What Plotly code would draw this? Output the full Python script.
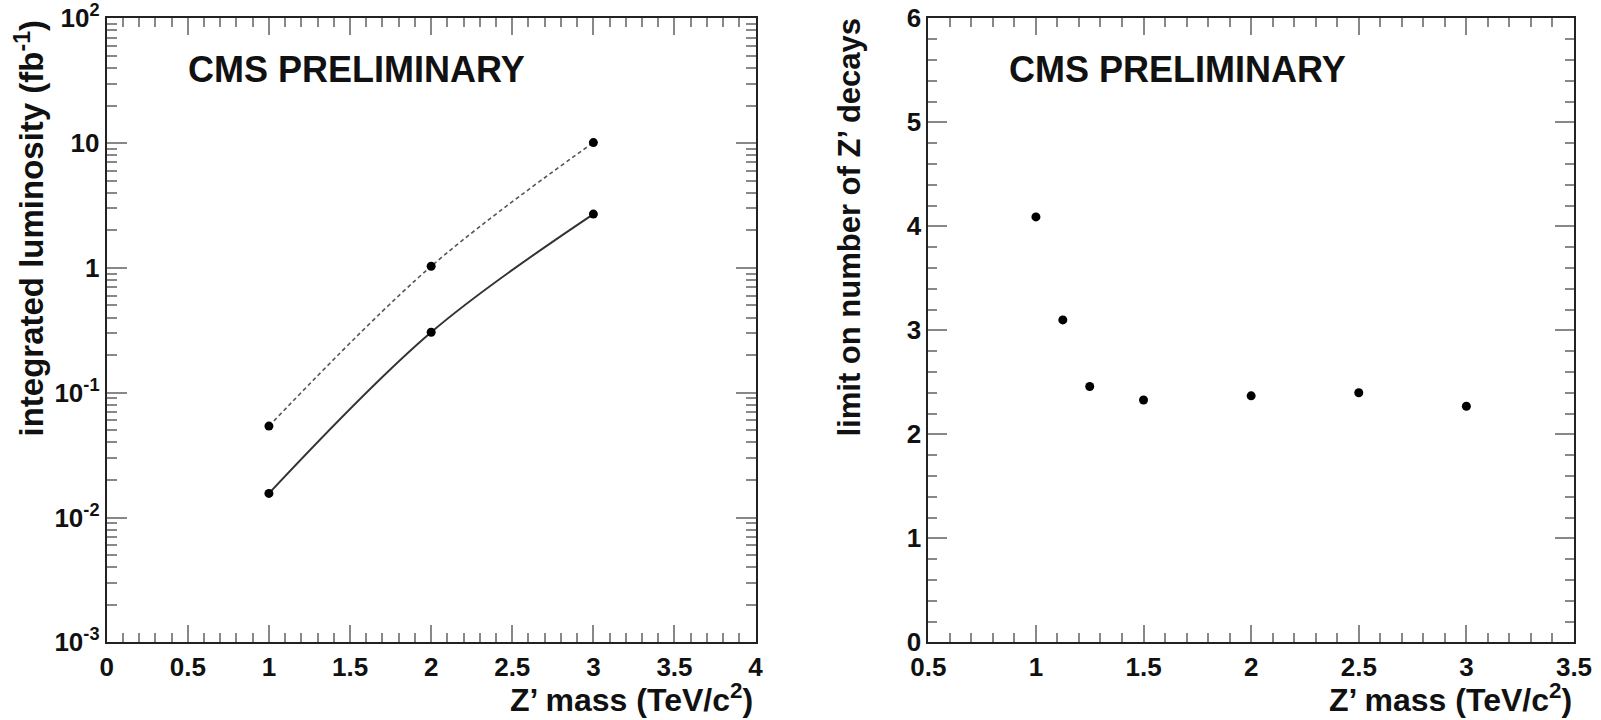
import plotly.graph_objects as go

# ---------------- data ----------------
mass_lumi = [1, 2, 3]
lumi_dashed = [0.054, 1.03, 10.1]
lumi_solid = [0.0156, 0.305, 2.70]

mass_limit = [1, 1.125, 1.25, 1.5, 2, 2.5, 3]
limit_decays = [4.09, 3.10, 2.46, 2.33, 2.37, 2.40, 2.27]

log_tickvals = [1e-3, 1e-2, 1e-1, 1, 10, 100]
log_ticktext = ["10<sup>-3</sup>", "10<sup>-2</sup>", "10<sup>-1</sup>", "1", "10", "10<sup>2</sup>"]

# ---------------- geometry (pixels) ----------------
W, H = 1601, 720
L1, R1 = 106.7, 755.6
L2, R2 = 928.3, 1574.0
TOP, BOT = 18.3, 642.3

def px(x):
    return x / W

def py(y):
    return 1 - y / H

FONT = "Liberation Sans"
tickfont = dict(family=FONT, size=26, color="#111", weight="bold")

fig = go.Figure()

fig.add_trace(go.Scatter(
    x=mass_lumi, y=lumi_dashed, mode="lines+markers",
    line=dict(color="#555", width=1.6, dash="4px,3px", shape="spline", smoothing=1),
    marker=dict(color="black", size=9),
    xaxis="x", yaxis="y", showlegend=False))
fig.add_trace(go.Scatter(
    x=mass_lumi, y=lumi_solid, mode="lines+markers",
    line=dict(color="#333", width=2, shape="spline", smoothing=1),
    marker=dict(color="black", size=9),
    xaxis="x", yaxis="y", showlegend=False))
fig.add_trace(go.Scatter(
    x=mass_limit, y=limit_decays, mode="markers",
    marker=dict(color="black", size=9),
    xaxis="x2", yaxis="y2", showlegend=False))

axis_common = dict(
    showline=True, linecolor="#222", linewidth=2, mirror="ticks",
    ticks="inside", tickcolor="#888", tickwidth=1.5,
    showgrid=False, zeroline=False, tickfont=tickfont, automargin=False,
)

fig.update_layout(
    width=W, height=H, autosize=False,
    margin=dict(l=0, r=0, t=0, b=0, pad=0),
    paper_bgcolor="white", plot_bgcolor="white",
    xaxis=dict(domain=[px(L1), px(R1)], range=[0, 4], tick0=0, dtick=0.5,
               ticklen=17, anchor="y",
               minor=dict(dtick=0.1, ticks="inside", ticklen=9, tickcolor="#888", tickwidth=1.5),
               **axis_common),
    yaxis=dict(domain=[py(BOT), py(TOP)], type="log", range=[-3, 2],
               tickvals=log_tickvals, ticktext=log_ticktext, ticklen=20, anchor="x",
               minor=dict(dtick="D1", ticks="inside", ticklen=10, tickcolor="#888", tickwidth=1.5),
               **axis_common),
    xaxis2=dict(domain=[px(L2), px(R2)], range=[0.5, 3.5], tick0=0.5, dtick=0.5,
                ticklen=17, anchor="y2",
                minor=dict(dtick=0.1, ticks="inside", ticklen=9, tickcolor="#888", tickwidth=1.5),
                **axis_common),
    yaxis2=dict(domain=[py(BOT), py(TOP)], range=[0, 6], tick0=0, dtick=1,
                ticklen=19, anchor="x2",
                minor=dict(dtick=0.2, ticks="inside", ticklen=9, tickcolor="#888", tickwidth=1.5),
                **axis_common),
)

ann_font_big = dict(family=FONT, size=36, color="#111", weight="bold")
title_font = dict(family=FONT, size=32, color="#111", weight="bold")

annotations = [
    dict(text="CMS PRELIMINARY", x=px(186), y=py(70), xanchor="left", yanchor="middle",
         font=ann_font_big),
    dict(text="CMS PRELIMINARY", x=px(1007), y=py(70), xanchor="left", yanchor="middle",
         font=ann_font_big),
    dict(text="Z’ mass (TeV/c<sup>2</sup>)", x=px(755), y=py(720), xanchor="right", yanchor="bottom",
         font=title_font),
    dict(text="Z’ mass (TeV/c<sup>2</sup>)", x=px(1574), y=py(720), xanchor="right", yanchor="bottom",
         font=title_font),
    dict(text="integrated luminosity (fb<sup>-1</sup>)", x=px(29), y=py(18), xanchor="center",
         yanchor="top", textangle=-90, font=dict(family=FONT, size=33, color="#111", weight="bold")),
    dict(text="limit on number of Z’ decays", x=px(849), y=py(16), xanchor="center",
         yanchor="top", textangle=-90, font=dict(family=FONT, size=31, color="#111", weight="bold")),
]
for a in annotations:
    a.update(xref="paper", yref="paper", showarrow=False)
fig.update_layout(annotations=annotations)

fig.write_html("out.html")
